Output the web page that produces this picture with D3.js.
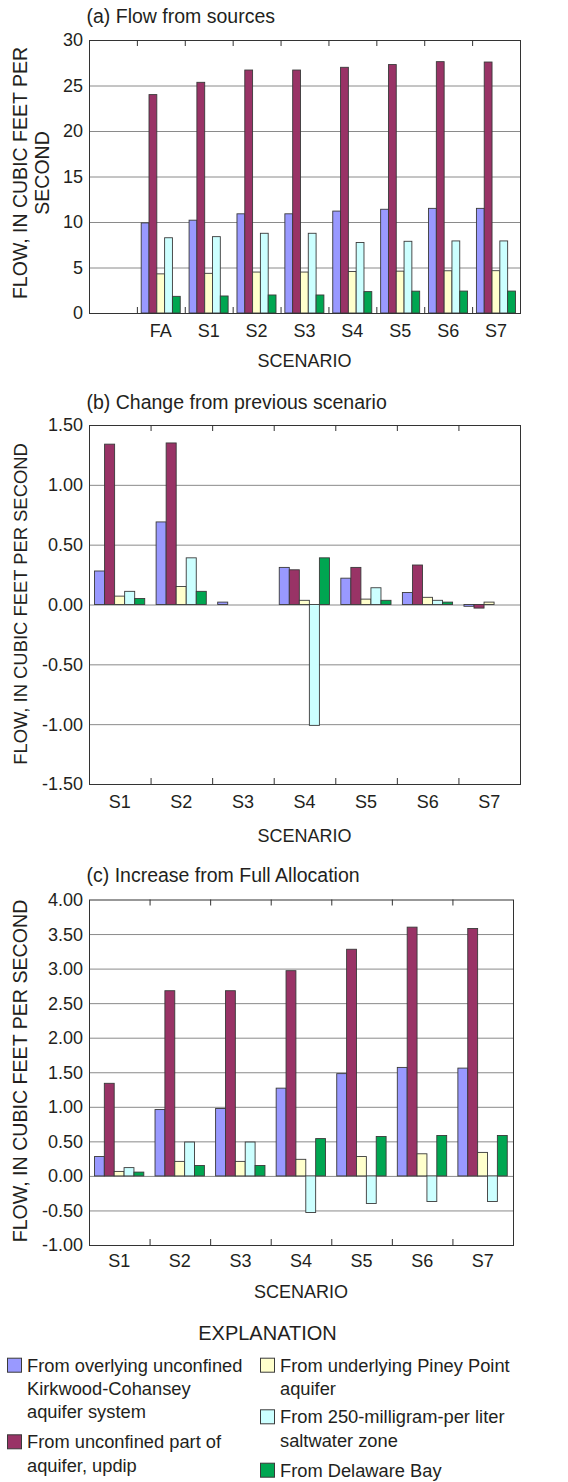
<!DOCTYPE html>
<html>
<head>
<meta charset="utf-8">
<script src="https://cdn.jsdelivr.net/npm/d3@7"></script>
<style>
  body { margin: 0; background: #fff; }
  svg { display: block; font-family: "Liberation Sans", Arial, Helvetica, sans-serif; }
  text { fill: #231f20; }
</style>
</head>
<body>
<div id="chart"></div>
<script>
// --- categories
var scenariosA = ['', 'FA', 'S1', 'S2', 'S3', 'S4', 'S5', 'S6', 'S7'];
var scenariosBC = ['S1', 'S2', 'S3', 'S4', 'S5', 'S6', 'S7'];

// --- (a) flow from sources (first slot is empty)
var flowKirkwood = [null, 9.9, 10.2, 10.9, 10.9, 11.2, 11.4, 11.5, 11.5];
var flowUpdip    = [null, 24.0, 25.35, 26.7, 26.7, 27.0, 27.3, 27.62, 27.58];
var flowPiney    = [null, 4.3, 4.36, 4.5, 4.5, 4.56, 4.6, 4.64, 4.65];
var flowSalt     = [null, 8.27, 8.39, 8.76, 8.76, 7.75, 7.88, 7.92, 7.92];
var flowBay      = [null, 1.83, 1.87, 1.98, 1.98, 2.35, 2.4, 2.41, 2.41];

// --- (b) change from previous scenario
var chgKirkwood = [0.28, 0.69, 0.02, 0.31, 0.22, 0.10, -0.015];
var chgUpdip    = [1.34, 1.35, 0, 0.29, 0.31, 0.33, -0.03];
var chgPiney    = [0.07, 0.15, 0, 0.035, 0.045, 0.06, 0.02];
var chgSalt     = [0.11, 0.39, 0, -1.01, 0.14, 0.035, 0];
var chgBay      = [0.05, 0.11, 0, 0.39, 0.035, 0.02, 0];

// --- (c) increase from full allocation
var incKirkwood = [0.28, 0.96, 0.975, 1.27, 1.48, 1.57, 1.56];
var incUpdip    = [1.34, 2.68, 2.68, 2.97, 3.28, 3.60, 3.58];
var incPiney    = [0.065, 0.21, 0.21, 0.24, 0.28, 0.32, 0.34];
var incSalt     = [0.12, 0.49, 0.49, -0.53, -0.40, -0.37, -0.37];
var incBay      = [0.055, 0.15, 0.15, 0.54, 0.57, 0.585, 0.585];

// --- series + legend
var seriesKeys = ['kirkwood', 'updip', 'piney', 'salt', 'bay'];
var seriesColors = ['#9999ff', '#993366', '#ffffcc', '#ccffff', '#00a651'];
var legendLines = [
  ['From overlying unconfined', 'Kirkwood-Cohansey', 'aquifer system'],
  ['From unconfined part of', 'aquifer, updip'],
  ['From underlying Piney Point', 'aquifer'],
  ['From 250-milligram-per liter', 'saltwater zone'],
  ['From Delaware Bay']
];

var width = 568, height = 1482;
var svg = d3.select('#chart').append('svg')
  .attr('width', width)
  .attr('height', height);

svg.append('rect').attr('width', width).attr('height', height).attr('fill', '#fff');

// --- one panel
function drawPanel(opt) {
  var x = d3.scaleBand().domain(opt.cats).range([opt.left, opt.right]);
  var bw = x.bandwidth();
  var x1 = d3.scaleBand().domain(seriesKeys).range([bw * 0.09, bw * 0.905]);
  var y = d3.scaleLinear().domain(opt.domain).range([opt.bottom, opt.top]);
  // plain hyphen for negatives, like the original figure
  var fmt = function(d) { return d3.format(opt.fmt)(d).replace('\u2212', '-'); };

  var g = svg.append('g');

  // gridlines
  g.selectAll('.grid').data(opt.ticks.slice(1, -1))
    .enter().append('line')
    .attr('x1', opt.left).attr('x2', opt.right)
    .attr('y1', function(d){ return y(d) + 0.5; })
    .attr('y2', function(d){ return y(d) + 0.5; })
    .attr('stroke', '#8a8a8a').attr('stroke-width', 1);

  // bars
  var rows = [];
  opt.cats.forEach(function(c, i) {
    seriesKeys.forEach(function(k, j) {
      var v = opt.values[j][i];
      if (v === null || v === 0) return;
      rows.push({cat: c, key: k, v: v, color: seriesColors[j]});
    });
  });
  g.selectAll('.bar').data(rows)
    .enter().append('rect')
    .attr('x', function(d){ return x(d.cat) + x1(d.key); })
    .attr('y', function(d){ return y(Math.max(0, d.v)); })
    .attr('width', x1.bandwidth())
    .attr('height', function(d){ return Math.abs(y(d.v) - y(0)); })
    .attr('fill', function(d){ return d.color; })
    .attr('stroke', '#3a3a3a').attr('stroke-width', 0.9);

  // frame
  g.append('rect')
    .attr('x', opt.left + 0.5).attr('y', opt.top + 0.5)
    .attr('width', opt.right - opt.left).attr('height', opt.bottom - opt.top)
    .attr('fill', 'none').attr('stroke', '#333').attr('stroke-width', 1);

  // category ticks on top and bottom, pointing inwards
  var bounds = opt.cats.slice(1).map(function(c){ return x(c); });
  g.selectAll('.ttop').data(bounds).enter().append('line')
    .attr('x1', function(d){ return d + 0.5; }).attr('x2', function(d){ return d + 0.5; })
    .attr('y1', opt.top).attr('y2', opt.top + 6)
    .attr('stroke', '#333');
  g.selectAll('.tbot').data(bounds).enter().append('line')
    .attr('x1', function(d){ return d + 0.5; }).attr('x2', function(d){ return d + 0.5; })
    .attr('y1', opt.bottom - 6).attr('y2', opt.bottom)
    .attr('stroke', '#333');

  // y tick labels
  g.selectAll('.ylab').data(opt.ticks).enter().append('text')
    .attr('x', opt.left - 6)
    .attr('y', function(d){ return y(d); })
    .attr('dy', '0.36em')
    .attr('text-anchor', 'end')
    .style('font-size', '18px')
    .text(fmt);

  // category labels
  g.selectAll('.xlab').data(opt.cats).enter().append('text')
    .attr('x', function(d){ return x(d) + bw / 2; })
    .attr('y', opt.bottom + opt.catGap)
    .attr('text-anchor', 'middle')
    .style('font-size', '18px')
    .text(function(d){ return d; });

  // axis titles
  g.append('text')
    .attr('x', (opt.left + opt.right) / 2)
    .attr('y', opt.bottom + opt.scenGap)
    .attr('text-anchor', 'middle')
    .style('font-size', '18px')
    .text('SCENARIO');

  g.append('text')
    .attr('x', 86.5).attr('y', opt.titleY)
    .style('font-size', '19.5px')
    .text(opt.title);

  opt.yTitle.forEach(function(line, i) {
    g.append('text')
      .attr('transform', 'translate(' + opt.yTitleX[i] + ',' + opt.yMid + ') rotate(-90)')
      .attr('text-anchor', 'middle')
      .style('font-size', opt.yTitleSize + 'px')
      .text(line);
  });
}

drawPanel({
  cats: scenariosA,
  values: [flowKirkwood, flowUpdip, flowPiney, flowSalt, flowBay],
  domain: [0, 30], ticks: [0, 5, 10, 15, 20, 25, 30], fmt: 'd',
  left: 89, right: 520, top: 40, bottom: 313,
  catGap: 24, scenGap: 53.5, title: '(a) Flow from sources', titleY: 23.3,
  yTitle: ['FLOW, IN CUBIC FEET PER', 'SECOND'], yTitleX: [26.5, 48.5], yMid: 173, yTitleSize: 19.5
});

drawPanel({
  cats: scenariosBC,
  values: [chgKirkwood, chgUpdip, chgPiney, chgSalt, chgBay],
  domain: [-1.5, 1.5], ticks: [-1.5, -1, -0.5, 0, 0.5, 1, 1.5], fmt: '.2f',
  left: 89, right: 520, top: 425, bottom: 784,
  catGap: 24, scenGap: 57.5, title: '(b) Change from previous scenario', titleY: 409.3,
  yTitle: ['FLOW, IN CUBIC FEET PER SECOND'], yTitleX: [26.5], yMid: 604, yTitleSize: 18.4
});

drawPanel({
  cats: scenariosBC,
  values: [incKirkwood, incUpdip, incPiney, incSalt, incBay],
  domain: [-1, 4], ticks: [-1, -0.5, 0, 0.5, 1, 1.5, 2, 2.5, 3, 3.5, 4], fmt: '.2f',
  left: 89, right: 513, top: 899.5, bottom: 1245,
  catGap: 21.7, scenGap: 52.5, title: '(c) Increase from Full Allocation', titleY: 881.7,
  yTitle: ['FLOW, IN CUBIC FEET PER SECOND'], yTitleX: [26.5], yMid: 1071, yTitleSize: 19.6
});

// --- legend
svg.append('text')
  .attr('x', 267.5).attr('y', 1340)
  .attr('text-anchor', 'middle')
  .style('font-size', '20px')
  .text('EXPLANATION');

var legendPos = [
  {x: 7, y: 1371.7},
  {x: 7, y: 1448.3},
  {x: 260, y: 1371.7},
  {x: 260, y: 1423.3},
  {x: 260, y: 1476.7}
];

var items = svg.selectAll('.legend').data(seriesKeys)
  .enter().append('g')
  .attr('transform', function(d, i){ return 'translate(' + legendPos[i].x + ',' + legendPos[i].y + ')'; });

items.append('rect')
  .attr('x', 0.5).attr('y', -13.5)
  .attr('width', 14).attr('height', 14)
  .attr('fill', function(d, i){ return seriesColors[i]; })
  .attr('stroke', '#3a3a3a').attr('stroke-width', 1);

items.each(function(d, i) {
  var t = d3.select(this).append('text')
    .attr('x', 20).attr('y', 0)
    .style('font-size', '18.3px');
  legendLines[i].forEach(function(line, k) {
    t.append('tspan').attr('x', 20).attr('y', k * 23.3).text(line);
  });
});
</script>
</body>
</html>
